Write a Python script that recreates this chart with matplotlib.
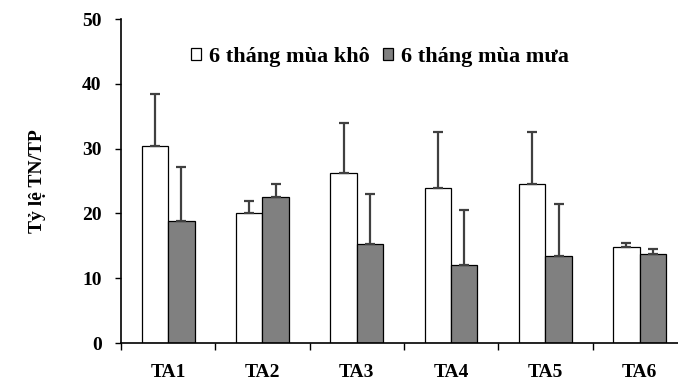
import numpy as np
import matplotlib
matplotlib.use('Agg')
import matplotlib.pyplot as plt

# dữ liệu
sites = ['TA1', 'TA2', 'TA3', 'TA4', 'TA5', 'TA6']
dry = [30.4, 20.0, 26.3, 24.0, 24.6, 14.8]
dry_err = [8.1, 1.9, 7.7, 8.5, 8.0, 0.7]
wet = [18.9, 22.6, 15.3, 12.1, 13.5, 13.7]
wet_err = [8.3, 1.9, 7.7, 8.4, 7.9, 0.8]

plt.rcParams['font.family'] = ['Liberation Serif', 'DejaVu Serif']
plt.rcParams['font.weight'] = 'bold'

fig = plt.figure(figsize=(6.78, 3.82), dpi=100)
ax = fig.add_axes([0.1785, 0.102, 0.8345, 0.848])

x = np.arange(len(sites))
w = 0.28
err_kw = dict(ecolor='#404040', elinewidth=1.6, capsize=3.5, capthick=1.6)
ax.bar(x - w / 2, dry, w, color='white', edgecolor='black', linewidth=0.9,
       yerr=[np.zeros(len(dry)), dry_err], error_kw=err_kw, label='6 tháng mùa khô')
ax.bar(x + w / 2, wet, w, color='#808080', edgecolor='black', linewidth=0.9,
       yerr=[np.zeros(len(wet)), wet_err], error_kw=err_kw, label='6 tháng mùa mưa')

ax.set_xlim(-0.5, len(sites) - 0.5)
ax.set_ylim(0, 50)
ax.set_yticks(range(0, 51, 10))
ax.set_xticks(np.arange(-0.5, len(sites), 1.0))
ax.set_xticklabels([])
ax.set_xticks(x, minor=True)
ax.set_xticklabels(sites, minor=True)
ax.tick_params(axis='x', which='minor', length=0, pad=15, labelsize=14)
ax.tick_params(axis='x', which='major', length=5, width=1, direction='out')
ax.tick_params(axis='y', length=4, width=1, direction='out', labelsize=14, pad=10)
for s in ['top', 'right']:
    ax.spines[s].set_visible(False)
ax.spines['left'].set_linewidth(1.2)
ax.spines['bottom'].set_linewidth(1.2)

ax.set_ylabel('Tỷ lệ TN/TP', fontsize=14, fontweight='bold')
ax.yaxis.set_label_coords(-0.132, 0.5)

ax.legend(loc='center', bbox_to_anchor=(0.56, 0.85), bbox_transform=fig.transFigure,
          ncol=2, frameon=False, fontsize=16, handlelength=0.45, handleheight=0.45,
          handletextpad=0.35, columnspacing=0.6)

fig.savefig('out.png', dpi=100)
